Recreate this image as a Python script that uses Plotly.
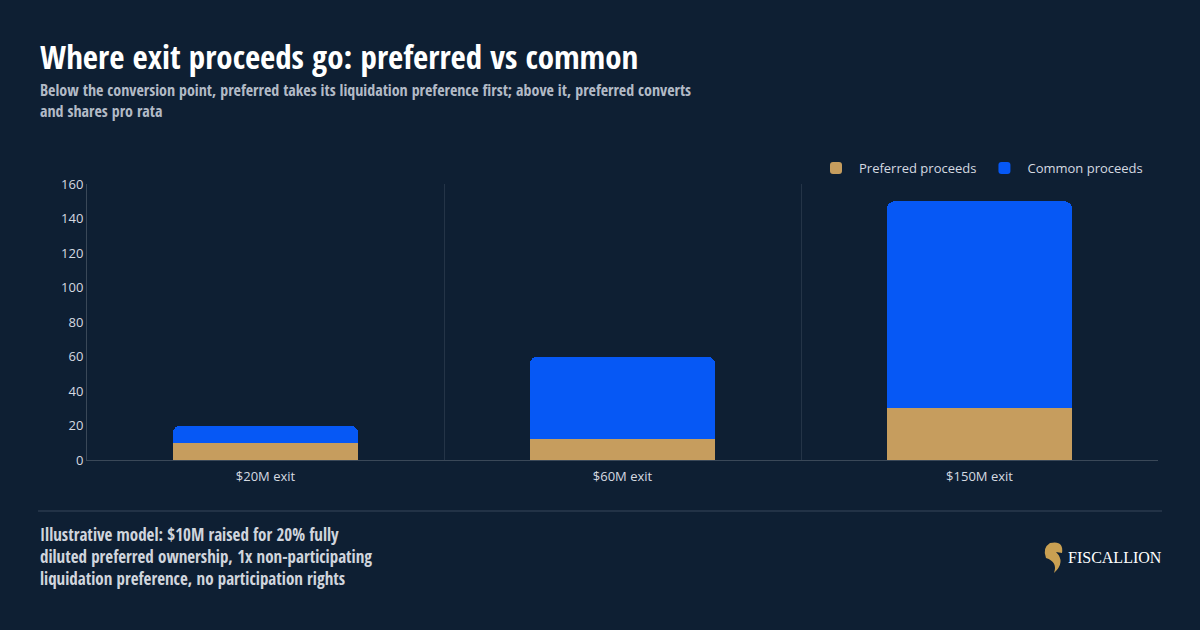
import plotly.graph_objects as go

categories = ["$20M exit", "$60M exit", "$150M exit"]
preferred = [10, 12, 30]
common = [10, 48, 120]
y_ticks = [0, 20, 40, 60, 80, 100, 120, 140, 160]

BG = "#0E1F33"
TAN = "#C69D5E"
BLUE = "#0658F5"
COND = "Open Sans Condensed, Roboto Condensed, sans-serif"
BODY = "Open Sans, Noto Sans, sans-serif"

L, R, T, B = 87, 1158, 184, 460


def px(x):
    return (x - L) / (R - L)


def py(y):
    return (B - y) / (B - T)


fig = go.Figure()
fig.add_bar(x=categories, y=preferred, name="Preferred proceeds", marker_color=TAN,
            marker_line_width=0, width=0.52)
fig.add_bar(x=categories, y=common, name="Common proceeds", marker_color=BLUE,
            marker_line_width=0, width=0.52)

fig.update_layout(
    width=1200, height=630,
    barmode="stack", barcornerradius=8,
    paper_bgcolor=BG, plot_bgcolor=BG,
    margin=dict(l=L, r=1200 - R, t=T, b=630 - B),
    font=dict(family=BODY, color="#D5DAE1", size=13),
    showlegend=True,
    legend=dict(orientation="h", x=px(1148), xanchor="right", y=py(168), yanchor="middle",
                font=dict(size=13, color="#D5DAE1"), bgcolor="rgba(0,0,0,0)",
                traceorder="normal", itemwidth=36),
    xaxis=dict(type="category", tickson="boundaries", showgrid=True,
               gridcolor="#243447", gridwidth=1, showline=True, linecolor="#3A4858",
               ticks="", ticklabelstandoff=4,
               tickfont=dict(size=13, color="#D5DAE1"), zeroline=False),
    yaxis=dict(range=[0, 160], tickvals=y_ticks, showgrid=False, showline=True,
               linecolor="#3A4858", zeroline=False, ticks="",
               tickfont=dict(size=13, color="#D5DAE1")),
)

fig.add_annotation(text="<b>Where exit proceeds go: preferred vs common</b>",
                   xref="paper", yref="paper", x=px(38), xanchor="left",
                   y=py(57), yanchor="middle", showarrow=False,
                   font=dict(family=COND, size=33, color="#FFFFFF"))
fig.add_annotation(text="<b>Below the conversion point, preferred takes its liquidation preference first; above it, preferred converts<br>and shares pro rata</b>",
                   xref="paper", yref="paper", x=px(38), xanchor="left",
                   y=py(100), yanchor="middle", showarrow=False, align="left",
                   font=dict(family=COND, size=16, color="#B2BAC6"))
fig.add_annotation(text="<b>Illustrative model: $10M raised for 20% fully<br>diluted preferred ownership, 1x non-participating<br>liquidation preference, no participation rights</b>",
                   xref="paper", yref="paper", x=px(38), xanchor="left",
                   y=py(556), yanchor="middle", showarrow=False, align="left",
                   font=dict(family=COND, size=17, color="#D0D5DD"))
fig.add_annotation(text="FISCALLION",
                   xref="paper", yref="paper", x=px(1066), xanchor="left",
                   y=py(557), yanchor="middle", showarrow=False,
                   font=dict(family="Liberation Serif, DejaVu Serif, serif", size=16, color="#FFFFFF"))

# footer divider
fig.add_shape(type="line", xref="paper", yref="paper", x0=px(38), x1=px(1162),
              y0=py(511), y1=py(511), line=dict(color="#223246", width=2))

# logo mark (stylised gold emblem)
fig.add_shape(type="path", xref="paper", yref="paper",
              path=(f"M {px(1050)} {py(543)} "
                    f"Q {px(1064)} {py(540)} {px(1062)} {py(553)} "
                    f"L {px(1056)} {py(552)} "
                    f"Q {px(1066)} {py(562)} {px(1054)} {py(573)} "
                    f"Q {px(1058)} {py(562)} {px(1046)} {py(558)} "
                    f"Q {px(1042)} {py(548)} {px(1050)} {py(543)} Z"),
              fillcolor="#C9A052", line=dict(width=0))

fig.write_html("out.html")
